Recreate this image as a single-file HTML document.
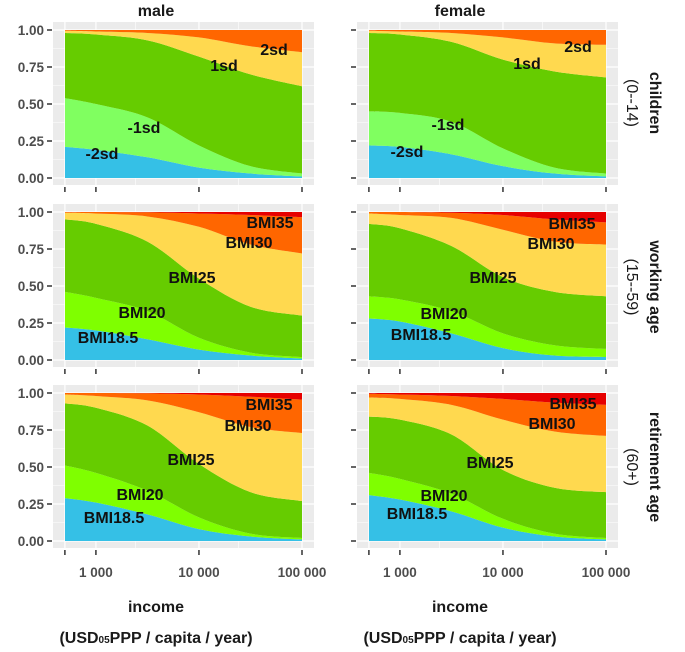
<!DOCTYPE html>
<html><head><meta charset="utf-8">
<style>
html,body{margin:0;padding:0;background:#fff;overflow:hidden;width:685px;height:652px;}
svg{display:block;font-family:"Liberation Sans",sans-serif;overflow:hidden;}
.lab{font-weight:bold;font-size:16px;fill:#111;}
.tick{font-size:13.5px;fill:#4d4d4d;font-weight:bold;}
.strip{font-weight:bold;font-size:16px;fill:#1a1a1a;}
</style></head>
<body>
<svg id="chart" width="685" height="652" viewBox="0 0 685 652">
<text class="strip" x="156" y="16" text-anchor="middle">male</text>
<text class="strip" x="460" y="16" text-anchor="middle">female</text>
<g>
<text class="strip" transform="translate(650,103) rotate(90)" text-anchor="middle">children</text>
<text class="strip" transform="translate(627,103) rotate(90)" text-anchor="middle" style="font-weight:normal">(0--14)</text></g>
<g>
<text class="strip" transform="translate(650,287) rotate(90)" text-anchor="middle">working age</text>
<text class="strip" transform="translate(627,287) rotate(90)" text-anchor="middle" style="font-weight:normal">(15--59)</text></g>
<g>
<text class="strip" transform="translate(650,467) rotate(90)" text-anchor="middle">retirement age</text>
<text class="strip" transform="translate(627,467) rotate(90)" text-anchor="middle" style="font-weight:normal">(60+)</text></g>
<text class="strip" x="156" y="612" text-anchor="middle">income</text>
<text class="strip" x="460" y="612" text-anchor="middle">income</text>
<text class="strip" x="156" y="643" text-anchor="middle">(USD<tspan font-size="10">05</tspan>PPP / capita / year)</text>
<text class="strip" x="460" y="643" text-anchor="middle">(USD<tspan font-size="10">05</tspan>PPP / capita / year)</text>
</svg>
<script>
// log10 income sample points
const xLog = [2.7, 3.0, 3.5, 4.0, 4.5, 5.0];
const xTickVals = [500, 1000, 10000, 100000];
const xTickLabels = ["", "1 000", "10 000", "100 000"];
const yTickVals = [0, 0.25, 0.5, 0.75, 1];
const yTickLabels = ["0.00", "0.25", "0.50", "0.75", "1.00"];
// cumulative boundaries (bottom-up)
const maleChildren = [[0.21,0.19,0.14,0.07,0.03,0.01],[0.54,0.50,0.41,0.22,0.08,0.03],[0.98,0.97,0.93,0.82,0.70,0.62],[0.995,0.99,0.98,0.95,0.89,0.85]];
const femaleChildren = [[0.22,0.21,0.16,0.08,0.03,0.01],[0.45,0.44,0.38,0.20,0.07,0.03],[0.98,0.97,0.92,0.80,0.72,0.68],[0.995,0.99,0.98,0.95,0.91,0.90]];
const maleWorking = [[0.22,0.20,0.14,0.07,0.03,0.01],[0.46,0.42,0.33,0.15,0.05,0.02],[0.95,0.92,0.80,0.55,0.36,0.30],[0.995,0.99,0.97,0.90,0.78,0.72],[1,1,0.998,0.99,0.98,0.965]];
const femaleWorking = [[0.28,0.26,0.18,0.08,0.03,0.02],[0.43,0.41,0.33,0.18,0.10,0.075],[0.92,0.89,0.77,0.56,0.46,0.43],[0.99,0.98,0.96,0.88,0.80,0.78],[1,1,0.995,0.98,0.95,0.93]];
const maleRetired = [[0.29,0.26,0.18,0.08,0.03,0.01],[0.51,0.46,0.34,0.16,0.05,0.02],[0.93,0.90,0.78,0.52,0.33,0.27],[0.99,0.98,0.95,0.87,0.77,0.73],[1,1,0.998,0.99,0.975,0.955]];
const femaleRetired = [[0.31,0.28,0.20,0.09,0.03,0.01],[0.46,0.42,0.32,0.15,0.05,0.02],[0.84,0.82,0.72,0.48,0.36,0.33],[0.97,0.96,0.92,0.82,0.74,0.71],[0.995,0.99,0.98,0.96,0.935,0.92]];
const childColors = ["#35C0E6","#80FF60","#66CC00","#FFD94F","#FF6600"];
const adultColors = ["#35C0E6","#7FFF00","#66CC00","#FFD94F","#FF6600","#E60000"];
const childLabels = ["-2sd","-1sd","1sd","2sd"];
const adultLabels = ["BMI18.5","BMI20","BMI25","BMI30","BMI35"];

const NS="http://www.w3.org/2000/svg";
const svg=document.getElementById('chart');
function mk(tag,attrs,parent){const e=document.createElementNS(NS,tag);for(const k in attrs)e.setAttribute(k,attrs[k]);(parent||svg).appendChild(e);return e;}

const panels=[
 {d:maleChildren,c:childColors,l:childLabels,x0:65,y0:30,xt:false,yl:true,name:'male-children',
  lp:[[102,153],[144,127],[224,65],[274,49]]},
 {d:femaleChildren,c:childColors,l:childLabels,x0:369,y0:30,xt:false,yl:false,name:'female-children',
  lp:[[407,151],[448,124],[527,63],[578,46]]},
 {d:maleWorking,c:adultColors,l:adultLabels,x0:65,y0:212,xt:false,yl:true,name:'male-working',
  lp:[[108,337],[142,312],[192,277],[249,242],[270,222]]},
 {d:femaleWorking,c:adultColors,l:adultLabels,x0:369,y0:212,xt:false,yl:false,name:'female-working',
  lp:[[421,334],[444,313],[493,277],[551,243],[572,223]]},
 {d:maleRetired,c:adultColors,l:adultLabels,x0:65,y0:393,xt:true,yl:true,name:'male-retirement',
  lp:[[114,517],[140,494],[191,459],[248,425],[269,404]]},
 {d:femaleRetired,c:adultColors,l:adultLabels,x0:369,y0:393,xt:true,yl:false,name:'female-retirement',
  lp:[[417,513],[444,495],[490,462],[552,423],[573,403]]}
];
const W=237,H=148,LMIN=2.7,LMAX=5.0;

function curve(pts){
 let s='';
 for(let i=0;i<pts.length-1;i++){
  const p0=pts[Math.max(0,i-1)],p1=pts[i],p2=pts[i+1],p3=pts[Math.min(pts.length-1,i+2)];
  const c1=[p1[0]+(p2[0]-p0[0])/6,p1[1]+(p2[1]-p0[1])/6];
  const c2=[p2[0]-(p3[0]-p1[0])/6,p2[1]-(p3[1]-p1[1])/6];
  s+=' C '+c1[0]+' '+c1[1]+' '+c2[0]+' '+c2[1]+' '+p2[0]+' '+p2[1];
 }
 return s;
}

panels.forEach(p=>{
 const sx=l=>p.x0+(l-LMIN)/(LMAX-LMIN)*W;
 const sy=v=>p.y0+(1-v)*H;
 const g=mk('g',{});
 
 
 const bg=mk('rect',{x:p.x0-12,y:p.y0-8,width:W+24,height:H+15,fill:'#EBEBEB'},g);
 
 
 yTickVals.forEach(v=>{mk('line',{x1:p.x0-12,x2:p.x0+W+12,y1:sy(v),y2:sy(v),stroke:'#fff','stroke-width':1.2},g);});
 [0.125,0.375,0.625,0.875].forEach(v=>{mk('line',{x1:p.x0-12,x2:p.x0+W+12,y1:sy(v),y2:sy(v),stroke:'#fff','stroke-width':0.6},g);});
 xTickVals.forEach(v=>{const x=sx(Math.log10(v));mk('line',{x1:x,x2:x,y1:p.y0-8,y2:p.y0+H+7,stroke:'#fff','stroke-width':1.2},g);});
 [3.5,4.5].forEach(l=>{const x=sx(l)-12;mk('line',{x1:x,x2:x,y1:p.y0-8,y2:p.y0+H+7,stroke:'#fff','stroke-width':0.6},g);});
 const bounds=[xLog.map(()=>0),...p.d,xLog.map(()=>1)];
 for(let k=0;k<bounds.length-1;k++){
  const lo=xLog.map((l,i)=>[sx(l),sy(bounds[k][i])]);
  const hi=xLog.map((l,i)=>[sx(l),sy(bounds[k+1][i])]).reverse();
  const d='M '+lo[0][0]+' '+lo[0][1]+curve(lo)+' L '+hi[0][0]+' '+hi[0][1]+curve(hi)+' Z';
  const a=mk('path',{d:d,fill:p.c[k]},g);
  
  
 }
 p.l.forEach((t,i)=>{
  const e=mk('text',{x:p.lp[i][0],y:p.lp[i][1]+6,'text-anchor':'middle',class:'lab'},g);
  e.textContent=t;
  
  
 });
 yTickVals.forEach((v,i)=>{
  mk('line',{x1:p.x0-18,x2:p.x0-13,y1:sy(v),y2:sy(v),stroke:'#333','stroke-width':1.5},g);
  if(p.yl){const t=mk('text',{x:p.x0-21,y:sy(v)+5,'text-anchor':'end',class:'tick'},g);t.textContent=yTickLabels[i];
   
   }
 });
 xTickVals.forEach((v,i)=>{
  const x=sx(Math.log10(v));
  mk('line',{x1:x,x2:x,y1:p.y0+H+9,y2:p.y0+H+14,stroke:'#333','stroke-width':1.5},g);
  if(p.xt&&xTickLabels[i]){const t=mk('text',{x:x,y:p.y0+H+36,'text-anchor':'middle',class:'tick'},g);t.textContent=xTickLabels[i];
   
   }
 });
});
</script>
</body></html>
